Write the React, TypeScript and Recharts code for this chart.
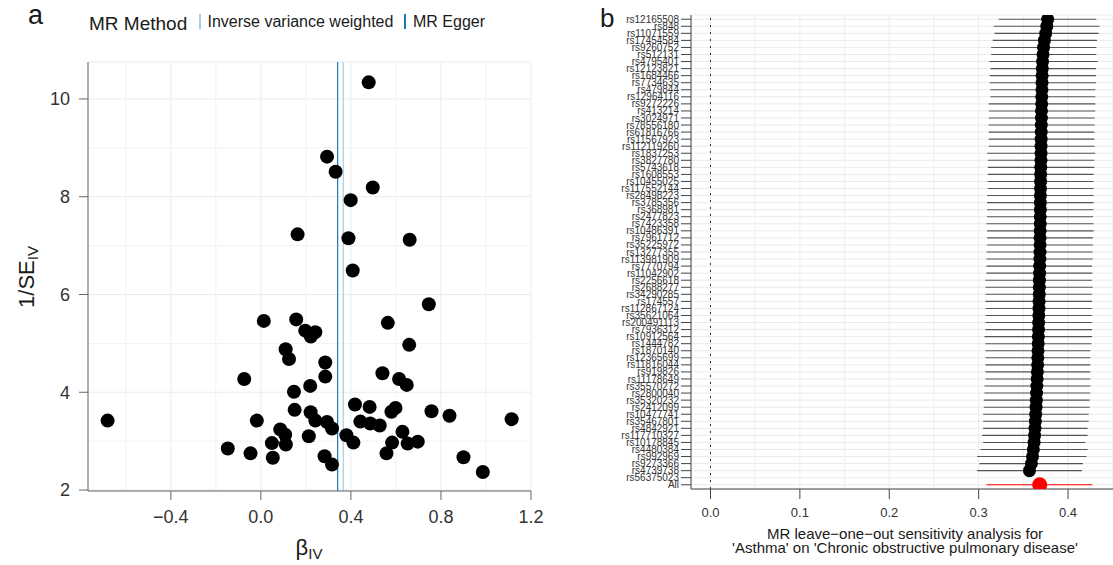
import React from "react";
import {
  ScatterChart,
  Scatter,
  XAxis,
  YAxis,
  CartesianGrid,
  ReferenceLine,
  ErrorBar,
} from "recharts";

const FONT = "'Liberation Sans', Arial, Helvetica, sans-serif";

// ---- panel a: funnel plot ----
const betaIV = [
  0.479, 0.294, 0.332, 0.497, 0.399, 0.163, 0.389, 0.661, 0.408, 0.746,
  -0.681, 0.013, 0.157, 0.197, 0.222, 0.242, 0.11, 0.125, 0.286, 0.286,
  -0.074, 0.219, 0.147, 0.15, 0.221, 0.242, 0.294, 0.316, -0.018, 0.086,
  0.108, 0.213, 0.049, 0.111, -0.147, -0.046, 0.053, 0.283, 0.316, 0.38,
  0.411, 0.418, 0.483, 0.442, 0.486, 0.528, 0.54, 0.564, 0.659, 0.614,
  0.648, 0.598, 0.58, 0.758, 0.838, 1.114, 0.629, 0.583, 0.652, 0.697,
  0.558, 0.9, 0.986,
];
const invSE = [
  10.34, 8.82, 8.51, 8.19, 7.93, 7.23, 7.15, 7.12, 6.49, 5.8,
  3.42, 5.46, 5.49, 5.26, 5.14, 5.23, 4.88, 4.68, 4.61, 4.32,
  4.27, 4.13, 4.01, 3.64, 3.59, 3.42, 3.39, 3.26, 3.42, 3.24,
  3.13, 3.1, 2.96, 2.93, 2.85, 2.75, 2.66, 2.69, 2.52, 3.12,
  2.97, 3.75, 3.7, 3.4, 3.36, 3.32, 4.39, 5.42, 4.97, 4.27,
  4.15, 3.68, 3.6, 3.61, 3.52, 3.45, 3.19, 2.97, 2.95, 2.99,
  2.75, 2.67, 2.37,
];
const ivwBeta = 0.366;
const eggerBeta = 0.341;
const funnelXTicks = [-0.4, 0, 0.4, 0.8, 1.2];
const funnelXMinor = [-0.6, -0.2, 0.2, 0.6, 1.0];
const funnelYTicks = [2, 4, 6, 8, 10];
const funnelYMinor = [3, 5, 7, 9];

// ---- panel b: leave-one-out ----
const snpLabels = [
  "rs12165508", "rs848", "rs11071559", "rs17454584", "rs9260752", "rs512131",
  "rs4795401", "rs12123821", "rs1684466", "rs7734635", "rs479844", "rs12964116",
  "rs9272226", "rs413214", "rs3024971", "rs78556180", "rs61816766", "rs11567923",
  "rs112119260", "rs1837253", "rs3827780", "rs5743618", "rs1608553", "rs10455025",
  "rs117552144", "rs28498223", "rs3785356", "rs368981", "rs2477823", "rs7423358",
  "rs10486391", "rs7961712", "rs35225972", "rs13277355", "rs113981909", "rs7770794",
  "rs11042902", "rs2256618", "rs2688277", "rs34290285", "rs174557", "rs112867124",
  "rs35621064", "rs200491113", "rs7936312", "rs10912564", "rs1444782", "rs1870140",
  "rs12365699", "rs11816044", "rs919826", "rs11178649", "rs35570272", "rs2800040",
  "rs35320232", "rs2412099", "rs10477741", "rs35467801", "rs4842921", "rs117710327",
  "rs10178845", "rs4480384", "rs992969", "rs9273366", "rs4739738", "rs56375023",
];
const looEstimate = [
  0.3772, 0.3762, 0.375, 0.3735, 0.3726, 0.372, 0.3715, 0.3712, 0.371, 0.3709,
  0.3708, 0.3706, 0.3705, 0.3703, 0.3702, 0.3701, 0.37, 0.3699, 0.3698, 0.3698,
  0.3697, 0.3695, 0.3694, 0.3693, 0.3692, 0.3691, 0.369, 0.369, 0.3689, 0.3689,
  0.3688, 0.3687, 0.3687, 0.3686, 0.3685, 0.3683, 0.3682, 0.368, 0.3679, 0.3678,
  0.3676, 0.3675, 0.3673, 0.3671, 0.367, 0.3668, 0.3666, 0.3664, 0.3662, 0.366,
  0.3657, 0.3654, 0.3651, 0.3648, 0.3645, 0.3642, 0.3638, 0.3634, 0.363, 0.3626,
  0.362, 0.3612, 0.3603, 0.359, 0.3568,
];
const looLower = [
  0.3225, 0.3169, 0.3177, 0.3158, 0.314, 0.314, 0.3121, 0.3132, 0.3124, 0.3124,
  0.3132, 0.3132, 0.3113, 0.3113, 0.3113, 0.3113, 0.3113, 0.3113, 0.3113, 0.3095,
  0.3102, 0.3102, 0.3102, 0.3102, 0.3102, 0.3095, 0.3095, 0.3095, 0.3095, 0.3087,
  0.3095, 0.3095, 0.3095, 0.3087, 0.3087, 0.3087, 0.3087, 0.3076, 0.3076, 0.3076,
  0.3076, 0.3076, 0.3076, 0.3076, 0.3076, 0.3065, 0.3076, 0.3076, 0.3076, 0.3076,
  0.3076, 0.3076, 0.3065, 0.3065, 0.3057, 0.3057, 0.305, 0.305, 0.305, 0.3039,
  0.305, 0.302, 0.2983, 0.3009, 0.2983,
];
const looUpper = [
  0.4316, 0.4353, 0.4342, 0.4324, 0.4316, 0.4316, 0.4331, 0.4312, 0.4312, 0.4312,
  0.4305, 0.4305, 0.4305, 0.4305, 0.4298, 0.4298, 0.4294, 0.4294, 0.4298, 0.4305,
  0.4294, 0.4294, 0.4286, 0.4286, 0.4286, 0.4286, 0.4286, 0.4286, 0.4279, 0.4286,
  0.4286, 0.4279, 0.4279, 0.4275, 0.4275, 0.4268, 0.4272, 0.4268, 0.4275, 0.4268,
  0.4268, 0.4268, 0.4268, 0.4268, 0.4268, 0.4268, 0.4261, 0.4249, 0.4249, 0.4249,
  0.4249, 0.4249, 0.4249, 0.4249, 0.4242, 0.4242, 0.423, 0.423, 0.4219, 0.4219,
  0.4193, 0.4219, 0.4205, 0.4167, 0.4156,
];
const allEstimate = 0.3683;
const allLower = 0.3087;
const allUpper = 0.4272;
const looXTicks = [0, 0.1, 0.2, 0.3, 0.4];
const looXMinor = [0.05, 0.15, 0.25, 0.35, 0.45];

const funnelData = betaIV.map((b, i) => ({ b, w: invSE[i] }));
const rowLabels = [...snpLabels, "All"];
const rowTicks = rowLabels.map((_, i) => i);
const looData = looEstimate.map((b, i) => ({
  row: i,
  b,
  err: [b - looLower[i], looUpper[i] - b],
}));
const allData = [
  {
    row: snpLabels.length,
    b: allEstimate,
    err: [allEstimate - allLower, allUpper - allEstimate],
  },
];

const dot = (r: number, fill: string) => (p: any) =>
  <circle cx={p.cx} cy={p.cy} r={r} fill={fill} />;

const txt = (left: number, top: number, size: number, s: string) => (
  <div style={{ position: "absolute", left, top, fontSize: size, lineHeight: 1, whiteSpace: "nowrap", color: "#1a1a1a" }}>
    {s}
  </div>
);

function FunnelPlot() {
  const border = "#666";
  return (
    <ScatterChart width={560} height={565} margin={{ top: 62, right: 29, bottom: 34, left: 0 }}>
      <CartesianGrid stroke="#ebebeb" />
      {funnelXMinor.map((v) => (
        <ReferenceLine key={"x" + v} x={v} stroke="#f2f2f2" />
      ))}
      {funnelYMinor.map((v) => (
        <ReferenceLine key={"y" + v} y={v} stroke="#f2f2f2" />
      ))}
      <XAxis
        type="number"
        dataKey="b"
        domain={[-0.768, 1.2]}
        ticks={funnelXTicks}
        allowDataOverflow
        height={40}
        tickSize={9}
        tickMargin={10}
        stroke={border}
        tick={{ fontSize: 18, fill: "#333", fontFamily: FONT }}
        tickFormatter={(v: number) => (v < 0 ? "\u2212" + Math.abs(v).toFixed(1) : v.toFixed(1))}
      />
      <XAxis xAxisId="top" orientation="top" type="number" domain={[-0.768, 1.2]} height={0} tick={false} tickLine={false} stroke={border} />
      <YAxis
        type="number"
        dataKey="w"
        domain={[1.98, 10.756]}
        ticks={funnelYTicks}
        allowDataOverflow
        width={88}
        tickSize={9}
        tickMargin={9}
        stroke={border}
        tick={{ fontSize: 18, fill: "#333", fontFamily: FONT }}
      />
      <YAxis yAxisId="right" orientation="right" type="number" domain={[1.98, 10.756]} width={0} tick={false} tickLine={false} stroke={border} />
      <ReferenceLine x={eggerBeta} stroke="#1f78b4" strokeWidth={1.2} />
      <ReferenceLine x={ivwBeta} stroke="#a6cee3" strokeWidth={1.2} />
      <Scatter data={funnelData} shape={dot(7, "#000")} isAnimationActive={false} />
    </ScatterChart>
  );
}

function LeaveOneOutPlot() {
  const dom: [number, number] = [-0.0218, 0.457];
  return (
    <ScatterChart width={519} height={565} margin={{ top: 15, right: 0, bottom: 36, left: 0 }}>
      <CartesianGrid stroke="#ebebeb" />
      {looXMinor.map((v) => (
        <ReferenceLine key={v} x={v} stroke="#f0f0f0" />
      ))}
      <XAxis
        type="number"
        dataKey="b"
        domain={dom}
        ticks={looXTicks}
        allowDataOverflow
        height={40}
        tickSize={10}
        tickMargin={9}
        stroke="#444"
        tick={{ fontSize: 13, fill: "#333", fontFamily: FONT }}
        tickFormatter={(v: number) => v.toFixed(1)}
      />
      <XAxis xAxisId="top" orientation="top" type="number" domain={dom} height={0} tick={false} tickLine={false} stroke="#aaa" />
      <YAxis
        type="number"
        dataKey="row"
        reversed
        domain={[-0.6, rowLabels.length - 0.4]}
        ticks={rowTicks}
        interval={0}
        allowDataOverflow
        width={91}
        tickSize={10}
        tickMargin={2}
        stroke="#444"
        tick={{ fontSize: 10, fill: "#333", fontFamily: FONT }}
        tickFormatter={(v: number) => rowLabels[v] ?? ""}
      />
      <ReferenceLine x={0} stroke="#333" strokeDasharray="2 5" />
      <Scatter data={looData} shape={dot(6.5, "#000")} isAnimationActive={false}>
        <ErrorBar dataKey="err" direction="x" width={0} stroke="#555" strokeWidth={1.1} />
      </Scatter>
      <Scatter data={allData} shape={dot(7.5, "#ff0000")} isAnimationActive={false}>
        <ErrorBar dataKey="err" direction="x" width={0} stroke="#ff0000" strokeWidth={1.1} />
      </Scatter>
    </ScatterChart>
  );
}

export default function App() {
  return (
    <div
      style={{
        position: "absolute",
        left: 0,
        top: 0,
        width: 1113,
        height: 565,
        overflow: "hidden",
        background: "#fff",
        fontFamily: FONT,
      }}
    >
      <div style={{ position: "absolute", left: 0, top: 0 }}>
        <FunnelPlot />
      </div>
      <div style={{ position: "absolute", left: 600, top: 0 }}>
        <LeaveOneOutPlot />
      </div>

      {txt(28, 2, 27, "a")}
      {txt(89, 14, 19, "MR Method")}
      <div style={{ position: "absolute", left: 199, top: 14, width: 1.5, height: 15, background: "#a6cee3" }} />
      {txt(207.5, 14, 16, "Inverse variance weighted")}
      <div style={{ position: "absolute", left: 404, top: 14, width: 1.5, height: 15, background: "#1f78b4" }} />
      {txt(413, 14, 16, "MR Egger")}

      <div
        style={{
          position: "absolute",
          left: 27,
          top: 277,
          transform: "translate(-50%, -50%) rotate(-90deg)",
          fontSize: 22,
          lineHeight: 1,
          whiteSpace: "nowrap",
          color: "#1a1a1a",
        }}
      >
        1/SE<span style={{ fontSize: 15, position: "relative", top: 4 }}>IV</span>
      </div>
      <div
        style={{
          position: "absolute",
          left: 309,
          top: 548,
          transform: "translate(-50%, -50%)",
          fontSize: 22,
          lineHeight: 1,
          whiteSpace: "nowrap",
          color: "#1a1a1a",
        }}
      >
        β<span style={{ fontSize: 15, position: "relative", top: 4 }}>IV</span>
      </div>

      {txt(600, 5, 26, "b")}
      <div
        style={{
          position: "absolute",
          left: 700,
          top: 527,
          width: 410,
          textAlign: "center",
          fontSize: 15,
          lineHeight: "13.5px",
          color: "#1a1a1a",
        }}
      >
        MR leave−one−out sensitivity analysis for
        <br />
        'Asthma' on 'Chronic obstructive pulmonary disease'
      </div>
    </div>
  );
}
